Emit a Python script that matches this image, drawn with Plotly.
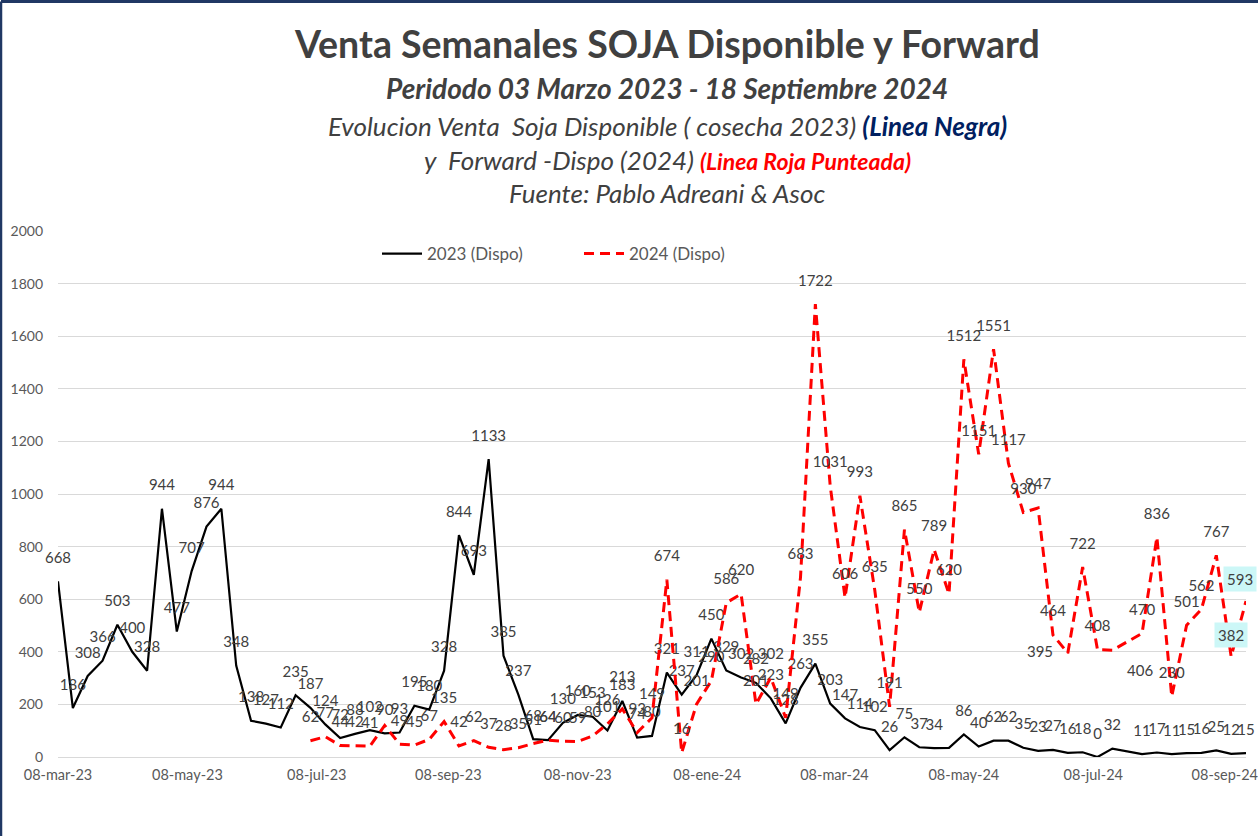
import pandas as pd
import plotly.graph_objects as go

# ---------------- data ----------------
start_date = "2023-03-08"
n_weeks = 81
dates = list(pd.date_range(start_date, periods=n_weeks, freq="7D"))

black_2023 = [668, 186, 308, 366, 503, 400, 328, 944, 477, 707,
              876, 944, 348, 138, 127, 112, 235, 187, 124, 72,
              88, 102, 90, 93, 195, 180, 328, 844, 693, 1133,
              385, 237, 68, 64, 130, 160, 153, 101, 213, 74,
              80, 321, 237, 311, 450, 329, 302, 282, 223, 128,
              263, 355, 203, 147, 114, 102, 26, 75, 37, 34,
              35, 86, 40, 62, 62, 35, 23, 27, 16, 18,
              0, 32, None, 11, 17, 11, 15, 16, 25, 12, 15]

red_2024 = [None] * 17 + [62, 77, 44, 42, 41, 120, 49, 45, 67, 135,
                          42, 62, 37, 28, 35, 51, 64, 60, 59, 80,
                          126, 183, 93, 149, 674, 16, 201, 290, 586, 620,
                          201, 302, 149, 683, 1722, 1031, 606, 993, 635, 191,
                          865, 550, 789, 620, 1512, 1151, 1551, 1117, 930, 947,
                          464, 395, 722, 408, 406, None, 470, 836, 230, 501,
                          562, 767, 382, 593]

tick_dates = ["2023-03-08", "2023-05-08", "2023-07-08", "2023-09-08", "2023-11-08",
              "2024-01-08", "2024-03-08", "2024-05-08", "2024-07-08", "2024-09-08"]
tick_text = ["08-mar-23", "08-may-23", "08-jul-23", "08-sep-23", "08-nov-23",
             "08-ene-24", "08-mar-24", "08-may-24", "08-jul-24", "08-sep-24"]

series_names = ["2023 (Dispo)", "2024 (Dispo)"]

# labels hidden in the original picture / shown in highlighted boxes
black_hidden = [60]
red_hidden = [22]
red_boxed = [79, 80]
red_label_pos = {68: "middle left", 71: "bottom right"}

# ---------------- styling ----------------
FONT = "Lato"
LABEL_COLOR = "#404040"
AXIS_COLOR = "#595959"
GRID = "#d9d9d9"
W, H = 1258, 836
ML, MR, MT, MB = 58, 12, 231, 79
PW, PH = W - ML - MR, H - MT - MB


def make_text(vals, hidden):
    return ["" if (v is None or i in hidden) else str(v) for i, v in enumerate(vals)]


black_text = make_text(black_2023, black_hidden)
red_text = make_text(red_2024, red_hidden + red_boxed)
red_pos = [red_label_pos.get(i, "top center") for i in range(len(red_2024))]

label_font = dict(family=FONT, size=15, color=LABEL_COLOR)
ghost_marker = dict(size=22, color="rgba(0,0,0,0)", line=dict(width=0))

fig = go.Figure()
fig.add_trace(go.Scatter(
    x=dates, y=black_2023, name=series_names[0], mode="lines+markers+text",
    line=dict(color="#000000", width=2.2), connectgaps=True, marker=ghost_marker,
    text=black_text, textposition="top center", textfont=label_font,
    cliponaxis=False,
))
fig.add_trace(go.Scatter(
    x=dates, y=red_2024, name=series_names[1], mode="lines+markers+text",
    line=dict(color="#FF0000", width=3, dash="10px,6px"), connectgaps=True, marker=ghost_marker,
    text=red_text, textposition=red_pos, textfont=label_font,
    cliponaxis=False,
))

annotations = []
for i, xs in zip(red_boxed, [0, -6]):
    annotations.append(dict(
        x=dates[i], y=red_2024[i], xref="x", yref="y", text=str(red_2024[i]),
        showarrow=False, yshift=22, xshift=xs, bgcolor="#ccf7f7", borderpad=3,
        font=label_font,
    ))

title_x = (667 - ML) / PW
title_lines = [
    (44, "<b>Venta Semanales SOJA Disponible y Forward</b>", 37.5),
    (88, "<b><i>Peridodo 03 Marzo 2023 - 18 Septiembre 2024</i></b>", 28),
    (126, "<i>Evolucion Venta  Soja Disponible ( cosecha 2023) "
          "<b><span style='color:#002060'>(Linea Negra)</span></b></i>", 26),
    (160, "<i>y  Forward -Dispo (2024) "
          "<b><span style='color:#FF0000;font-size:23px'>(Linea Roja Punteada)</span></b></i>", 26),
    (193, "<i>Fuente: Pablo Adreani &amp; Asoc</i>", 26),
]
for ypix, txt, size in title_lines:
    annotations.append(dict(
        x=title_x, y=(H - MB - ypix) / PH, xref="paper", yref="paper", text=txt, showarrow=False,
        xanchor="center", yanchor="middle",
        font=dict(family=FONT, size=size, color="#404040"),
    ))

border_y = (H - MB - 1.5) / PH
border_x = (1 - ML) / PW
fig.update_layout(
    width=W, height=H,
    margin=dict(l=ML, r=MR, t=MT, b=MB, autoexpand=False),
    paper_bgcolor="white", plot_bgcolor="white",
    font=dict(family=FONT, color=AXIS_COLOR),
    showlegend=True,
    hovermode=False,
    legend=dict(orientation="h", x=(377 - ML) / PW, y=(H - MB - 254) / PH,
                xanchor="left", yanchor="middle",
                font=dict(family=FONT, size=17, color=AXIS_COLOR),
                entrywidth=147, itemwidth=40, bgcolor="rgba(0,0,0,0)"),
    annotations=annotations,
    shapes=[
        dict(type="line", xref="paper", yref="paper", x0=border_x, x1=1.2,
             y0=border_y, y1=border_y, line=dict(color="#203864", width=3)),
        dict(type="line", xref="paper", yref="paper", x0=border_x, x1=border_x,
             y0=-0.5, y1=border_y, line=dict(color="#203864", width=2.5)),
    ],
)
fig.update_xaxes(
    type="date", range=[dates[0], dates[-1]], automargin=False,
    tickvals=tick_dates, ticktext=tick_text,
    tickfont=dict(family=FONT, size=14.5, color=AXIS_COLOR),
    ticklabeloverflow="allow", ticklabelstandoff=5,
    showgrid=False, showline=True, linecolor=GRID, linewidth=1, ticks="",
    zeroline=False,
)
fig.update_yaxes(
    range=[0, 2000], dtick=200, automargin=False,
    tickfont=dict(family=FONT, size=14, color=AXIS_COLOR),
    showgrid=True, gridcolor=GRID, gridwidth=1, zeroline=True, zerolinecolor=GRID,
    ticks="", ticklabelstandoff=14, showline=False,
)

fig.write_html("out.html", post_script="document.body.style.margin='0';",
               config={"displayModeBar": False})
